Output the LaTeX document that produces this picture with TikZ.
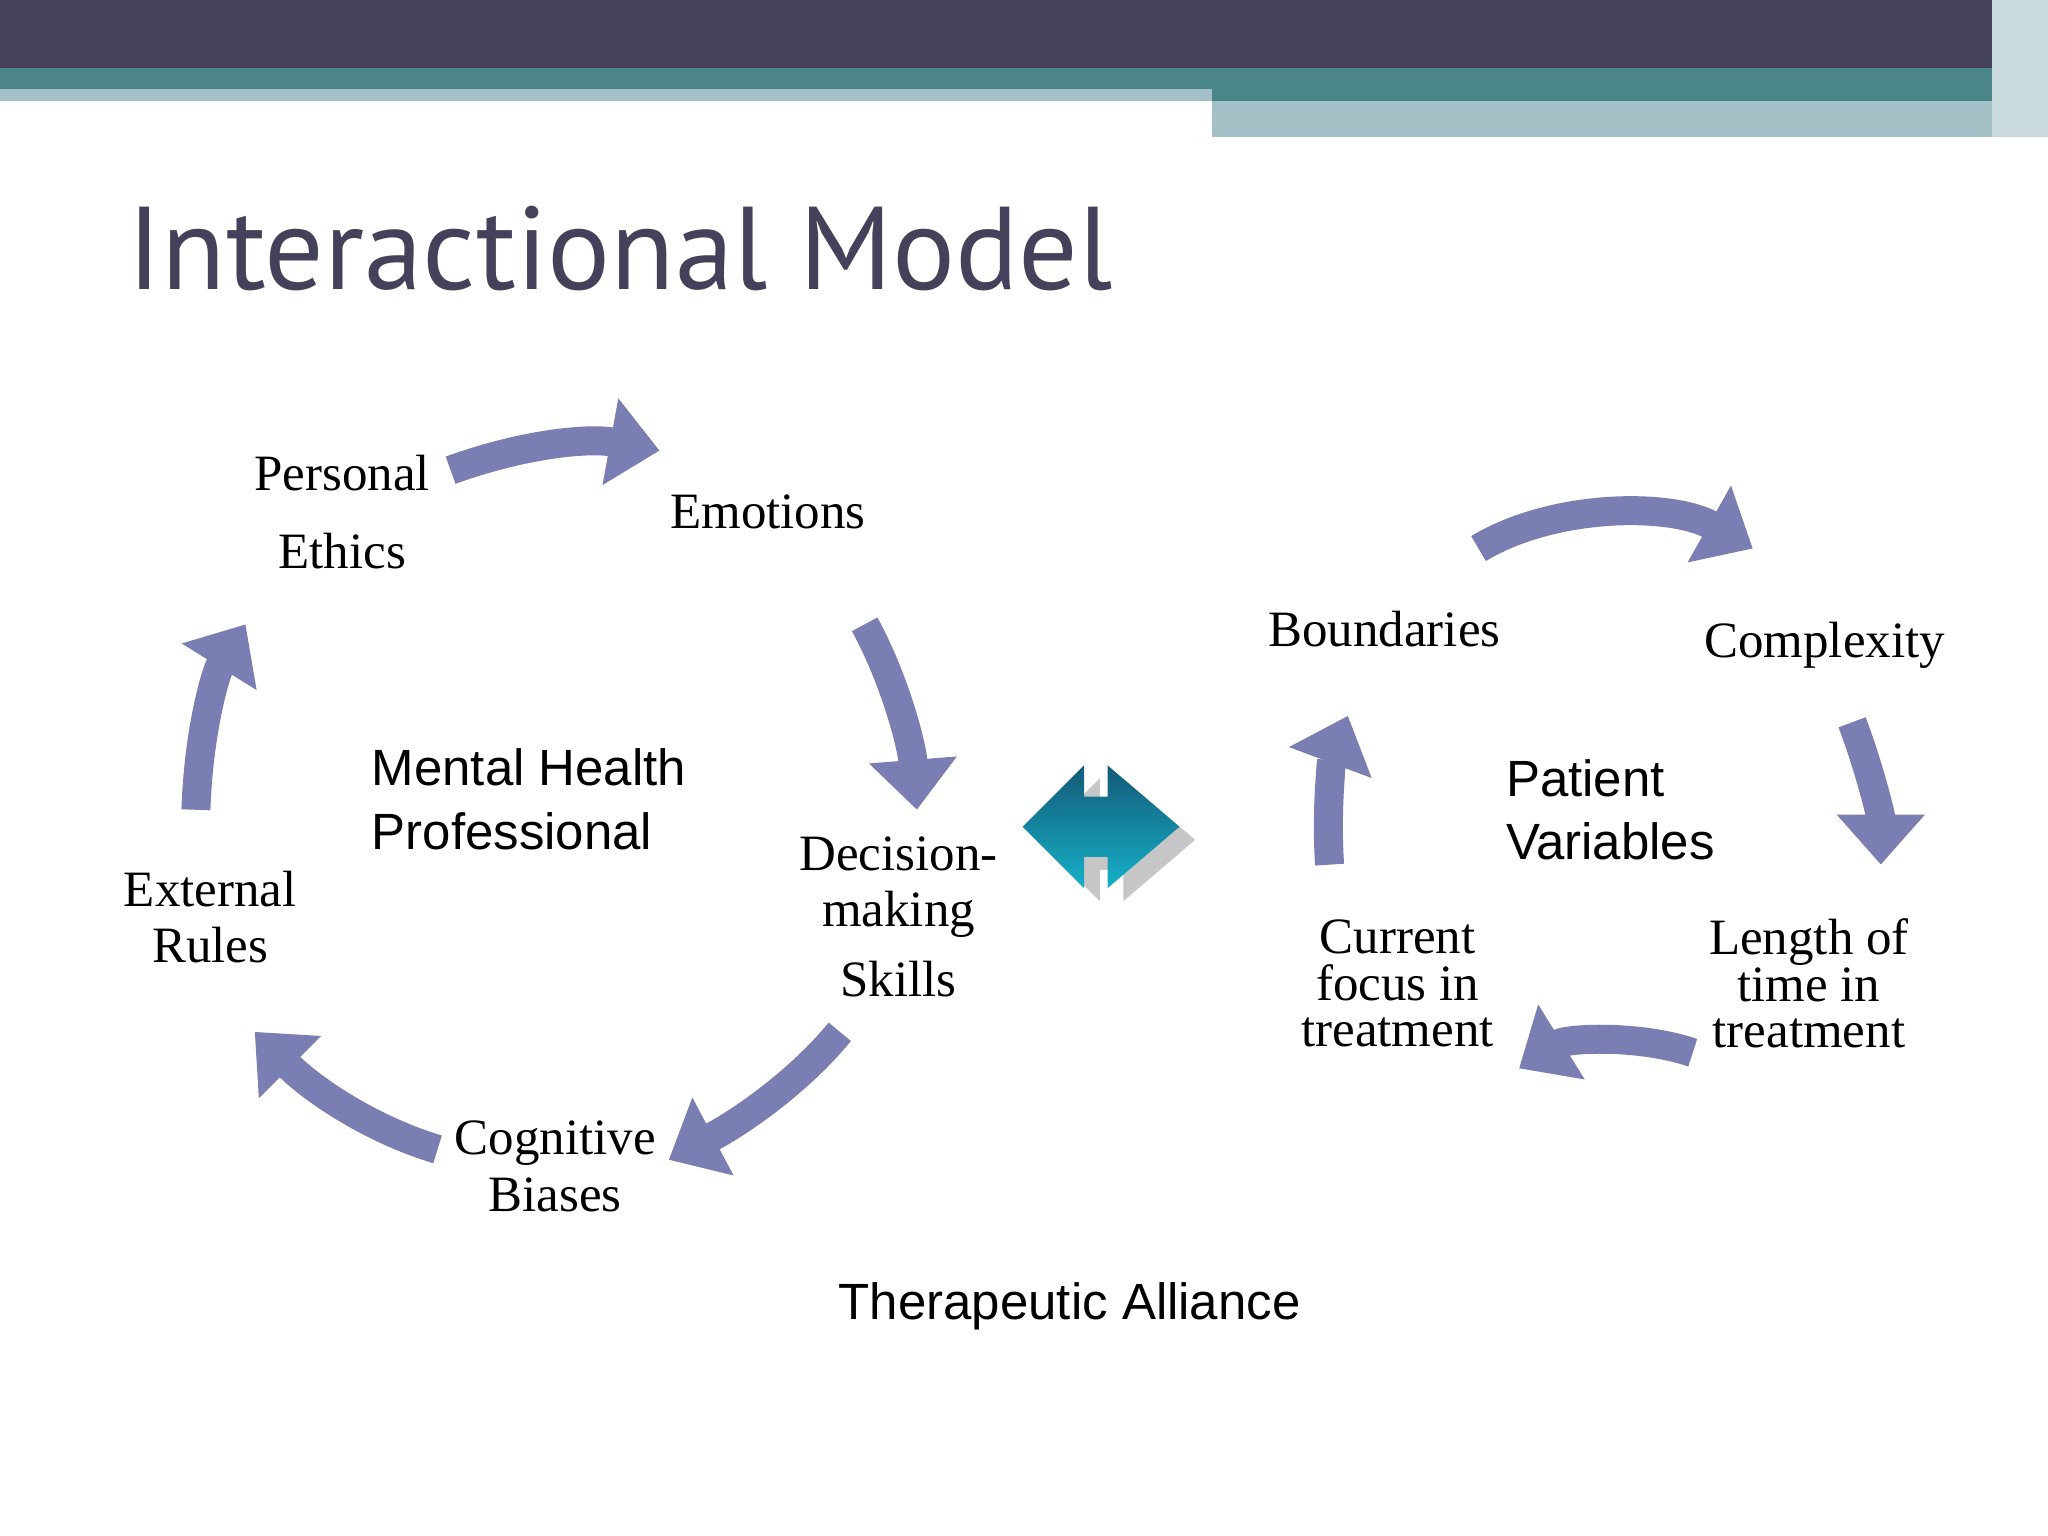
\documentclass[tikz,border=0pt]{standalone}
\usepackage{fontspec}
\setmainfont{Liberation Serif}
\newfontfamily\sansf{Liberation Sans}
\newfontfamily\titlef{PT Sans}
\usetikzlibrary{arrows.meta}
\definecolor{barDark}{HTML}{44425A}
\definecolor{barTeal}{HTML}{4A8589}
\definecolor{barLight}{HTML}{A3C1C6}
\definecolor{arrowC}{HTML}{7B7EB2}
\definecolor{tealA}{HTML}{1E8FB0}
\definecolor{tealB}{HTML}{145A78}
\tikzset{
  cyc/.style={line width=0.29cm, arrowC, -{Triangle[length=0.5cm,width=0.85cm]}},
  lab/.style={font=\fontsize{14.5}{16}\selectfont, align=center, text=black},
  slab/.style={font=\sansf\fontsize{14.5}{18}\selectfont, align=left, text=black},
}
\begin{document}
\begin{tikzpicture}[x=0.01306cm, y=-0.01306cm]
\useasboundingbox (0,0) rectangle (1568,1176);
% top bars
\fill[barDark] (0,0) rectangle (1568,52);
\fill[barTeal] (0,52) rectangle (1568,68);
\fill[barLight] (0,68) rectangle (928,77);
\fill[barTeal] (928,68) rectangle (1540,77);
\fill[barLight] (928,77) rectangle (1540,105);
\fill[barLight!60] (1525,0) rectangle (1568,105);
\node[anchor=west, text=barDark, font=\titlef\fontsize{33.5}{37}\selectfont] (title) at (88,190) {Interactional Model};
% left cycle labels
\node[lab] (pe) at (262,392) {Personal\\[6pt]Ethics};
\node[lab] (em) at (588,392) {Emotions};
\node[lab] (dm) at (688,702) {Decision-\\making\\[4pt]Skills};
\node[lab] (cb) at (425,893) {Cognitive\\Biases};
\node[lab] (er) at (161,702) {External\\Rules};
\node[slab] (mhp) at (405,612) {Mental Health\\Professional};
% right cycle labels
\node[lab] (bo) at (1060,482) {Boundaries};
\node[lab] (co) at (1397,494) {Complexity};
\node[lab, font=\fontsize{14.5}{13.2}\selectfont] (lt) at (1385,753) {Length of\\time in\\treatment};
\node[lab, font=\fontsize{14.5}{13.2}\selectfont] (cf) at (1070,753) {Current\\focus in\\treatment};
\node[slab] (pv) at (1233,620) {Patient\\Variables};
\node[font=\sansf\fontsize{14.5}{18}\selectfont] (ta) at (819,1000) {Therapeutic Alliance};
% arrow end coordinates
\coordinate (a1s) at (345,360); \coordinate (a1e) at (505,345);
\coordinate (a2s) at (662,478); \coordinate (a2e) at (702,620);
\coordinate (a3s) at (643,790); \coordinate (a3e) at (512,888);
\coordinate (a4s) at (335,880); \coordinate (a4e) at (195,790);
\coordinate (a5s) at (150,620); \coordinate (a5e) at (188,478);
\coordinate (b1s) at (1132,420); \coordinate (b1e) at (1342,420);
\coordinate (b2s) at (1418,553); \coordinate (b2e) at (1440,662);
\coordinate (b3s) at (1296,806); \coordinate (b3e) at (1163,818);
\coordinate (b4s) at (1018,662); \coordinate (b4e) at (1032,548);
% left cycle arrows
\draw[cyc] (a1s) .. controls (400,340) and (450,335) .. (a1e);
\draw[cyc] (a2s) .. controls (685,520) and (698,570) .. (a2e);
\draw[cyc] (a3s) .. controls (610,830) and (565,860) .. (a3e);
\draw[cyc] (a4s) .. controls (285,865) and (240,835) .. (a4e);
\draw[cyc] (a5s) .. controls (152,560) and (165,515) .. (a5e);
% right cycle arrows
\draw[cyc] (b1s) .. controls (1190,385) and (1280,385) .. (b1e);
\draw[cyc] (b2s) .. controls (1432,590) and (1440,625) .. (b2e);
\draw[cyc] (b3s) .. controls (1255,792) and (1200,795) .. (b3e);
\draw[cyc] (b4s) .. controls (1015,620) and (1020,580) .. (b4e);
% central double arrow
\fill[gray!45] (795,643) -- (842,596) -- (842,620) -- (860,620) -- (860,596) -- (915,643)
  -- (860,690) -- (860,666) -- (842,666) -- (842,690) -- cycle;
\shade[top color=tealB, bottom color=tealA!70!cyan] (783,633) -- (830,586) -- (830,610) -- (848,610) -- (848,586) -- (903,633)
  -- (848,680) -- (848,656) -- (830,656) -- (830,680) -- cycle;
\end{tikzpicture}
\end{document}
